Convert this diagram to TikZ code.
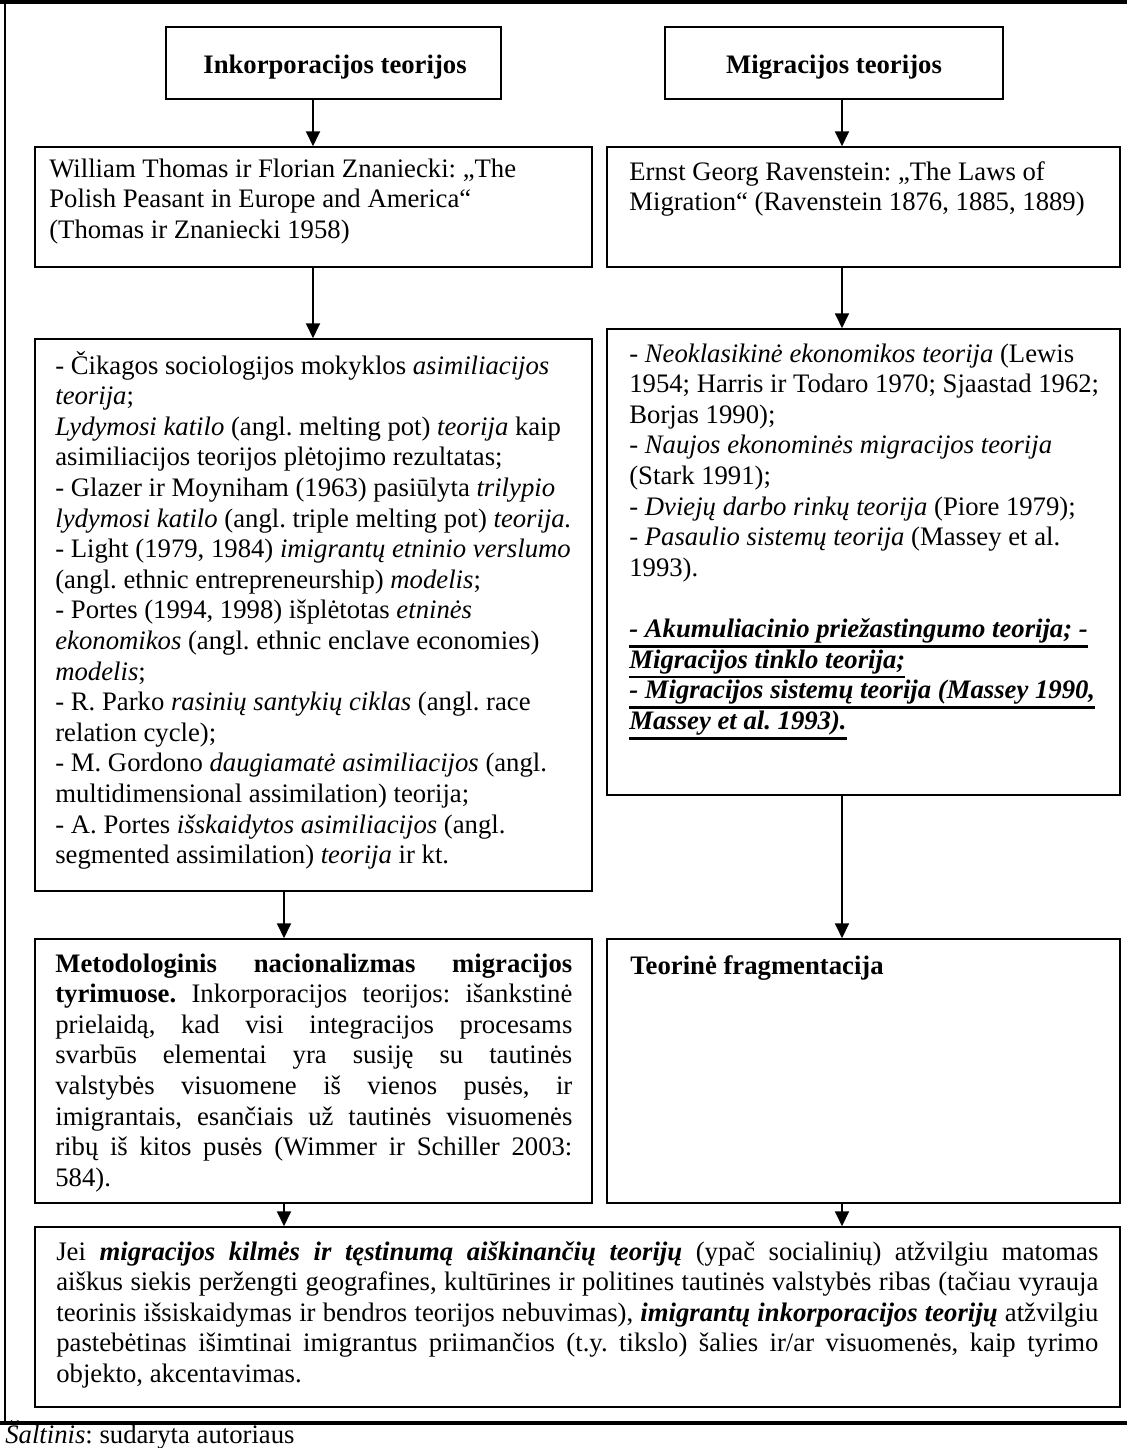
\documentclass[tikz,border=0pt]{standalone}
\usepackage{fontspec}
\setmainfont{Liberation Serif}
\usetikzlibrary{arrows.meta,fit}
\frenchspacing
\newcommand{\plotis}[1]{\dimexpr0.588pt*#1\relax}
\newsavebox{\pabrbox}
\newcommand{\pabr}[1]{\sbox{\pabrbox}{#1}\rlap{\rule[-6pt]{\wd\pabrbox}{1.5pt}}\usebox{\pabrbox}}

\begin{document}
\begin{tikzpicture}[x=0.588pt, y=-0.588pt,
        font=\fontsize{15.7pt}{18pt}\selectfont,
        laukas/.style={draw, line width=0.9pt, inner sep=0pt},
        tekstas/.style={anchor=base west, inner sep=0pt},
        rodykle/.style={line width=1.2pt, -{Triangle[length=8.8pt, width=8.2pt]}}]
        \useasboundingbox (0,0) rectangle (1127,1448);

        % Rėmelis
        \draw[line width=2pt] (0,2) -- (1127,2);
        \draw[line width=1.2pt] (5,2) -- (5,1423);
        \draw[line width=2pt] (0,1423) -- (1127,1423);

        % Viršutinis lygis
        \node[laukas, fit={(166,27) (501,99)}] (ink) {};
        \node[laukas, fit={(665,27) (1003,99)}] (migr) {};
        \node[tekstas, anchor=base] (inkTxt) at (335,73) {\textbf{Inkorporacijos teorijos}};
        \node[tekstas, anchor=base] (migrTxt) at (834,73) {\textbf{Migracijos teorijos}};

        % Antrasis lygis
        \node[laukas, fit={(35,147) (592,267)}] (thomas) {};
        \node[laukas, fit={(607,147) (1120,267)}] (raven) {};
        \node[tekstas] (thomasTxt) at (49,177) {\parbox[t]{\plotis{530}}{%
            William Thomas ir Florian Znaniecki: „The\\
            Polish Peasant in Europe and America“\\
            (Thomas ir Znaniecki 1958)}};
        \node[tekstas] (ravenTxt) at (629,180) {\parbox[t]{\plotis{485}}{%
            Ernst Georg Ravenstein: „The Laws of\\
            Migration“ (Ravenstein 1876, 1885, 1889)}};

        % Trečiasis lygis
        \node[laukas, fit={(35,339) (592,891)}] (cikaga) {};
        \node[laukas, fit={(607,329) (1120,795)}] (neokl) {};
        \node[tekstas] (cikagaTxt) at (55,374) {\parbox[t]{\plotis{530}}{%
            - Čikagos sociologijos mokyklos \textit{asimiliacijos}\\
            \textit{teorija};\\
            \textit{Lydymosi katilo} (angl. melting pot) \textit{teorija} kaip\\
            asimiliacijos teorijos plėtojimo rezultatas;\\
            - Glazer ir Moyniham (1963) pasiūlyta \textit{trilypio}\\
            \textit{lydymosi katilo} (angl. triple melting pot) \textit{teorija.}\\
            - Light (1979, 1984) \textit{imigrantų etninio verslumo}\\
            (angl. ethnic entrepreneurship) \textit{modelis};\\
            - Portes (1994, 1998) išplėtotas \textit{etninės}\\
            \textit{ekonomikos} (angl. ethnic enclave economies)\\
            \textit{modelis};\\
            - R. Parko \textit{rasinių santykių ciklas} (angl. race\\
            relation cycle);\\
            - M. Gordono \textit{daugiamatė asimiliacijos} (angl.\\
            multidimensional assimilation) teorija;\\
            - A. Portes \textit{išskaidytos asimiliacijos} (angl.\\
            segmented assimilation) \textit{teorija} ir kt.}};
        \node[tekstas] (neoklTxt) at (629,362) {\parbox[t]{\plotis{485}}{%
            - \textit{Neoklasikinė ekonomikos teorija} (Lewis\\
            1954; Harris ir Todaro 1970; Sjaastad 1962;\\
            Borjas 1990);\\
            - \textit{Naujos ekonominės migracijos teorija}\\
            (Stark 1991);\\
            - \textit{Dviejų darbo rinkų teorija} (Piore 1979);\\
            - \textit{Pasaulio sistemų teorija} (Massey et al.\\
            1993).\\[18pt]
            \bfseries\itshape
            \pabr{- Akumuliacinio priežastingumo teorija; -}\\
            \pabr{Migracijos tinklo teorija;}\\
            \pabr{- Migracijos sistemų teorija (Massey 1990,}\\
            \pabr{Massey et al. 1993).}}};

        % Ketvirtasis lygis
        \node[laukas, fit={(35,939) (592,1203)}] (metod) {};
        \node[laukas, fit={(607,939) (1120,1203)}] (teor) {};
        \node[tekstas] (metodTxt) at (55,972) {\parbox[t]{\plotis{517}}{%
            \textbf{Metodologinis nacionalizmas migracijos}\linebreak
            \textbf{tyrimuose.} Inkorporacijos teorijos: išankstinė\linebreak
            prielaidą, kad visi integracijos procesams\linebreak
            svarbūs elementai yra susiję su tautinės\linebreak
            valstybės visuomene iš vienos pusės, ir\linebreak
            imigrantais, esančiais už tautinės visuomenės\linebreak
            ribų iš kitos pusės (Wimmer ir Schiller 2003:\linebreak
            584).}};
        \node[tekstas] (teorTxt) at (630,974) {\textbf{Teorinė fragmentacija}};

        % Apatinis lygis
        \node[laukas, fit={(35,1227) (1120,1407)}] (bendra) {};
        \node[tekstas] (bendraTxt) at (56,1260) {\parbox[t]{\plotis{1042}}{%
            Jei \textbf{\textit{migracijos kilmės ir tęstinumą aiškinančių teorijų}} (ypač socialinių) atžvilgiu matomas\linebreak
            aiškus siekis peržengti geografines, kultūrines ir politines tautinės valstybės ribas (tačiau vyrauja\linebreak
            teorinis išsiskaidymas ir bendros teorijos nebuvimas), \textbf{\textit{imigrantų inkorporacijos teorijų}} atžvilgiu\linebreak
            pastebėtinas išimtinai imigrantus priimančios (t.y. tikslo) šalies ir/ar visuomenės, kaip tyrimo\linebreak
            objekto, akcentavimas.}};

        \node[tekstas] (saltinis) at (5,1443) {\textit{Šaltinis}: sudaryta autoriaus};

        % Jungtys
        \coordinate (ka) at (313,0);
        \coordinate (kb) at (284,0);
        \coordinate (d) at (842,0);
        \draw[rodykle] (ink.south -| ka) -- (thomas.north -| ka);
        \draw[rodykle] (thomas.south -| ka) -- (cikaga.north -| ka);
        \draw[rodykle] (cikaga.south -| kb) -- (metod.north -| kb);
        \draw[rodykle] (metod.south -| kb) -- (bendra.north -| kb);
        \draw[rodykle] (migr.south -| d) -- (raven.north -| d);
        \draw[rodykle] (raven.south -| d) -- (neokl.north -| d);
        \draw[rodykle] (neokl.south -| d) -- (teor.north -| d);
        \draw[rodykle] (teor.south -| d) -- (bendra.north -| d);
    \end{tikzpicture}
\end{document}
